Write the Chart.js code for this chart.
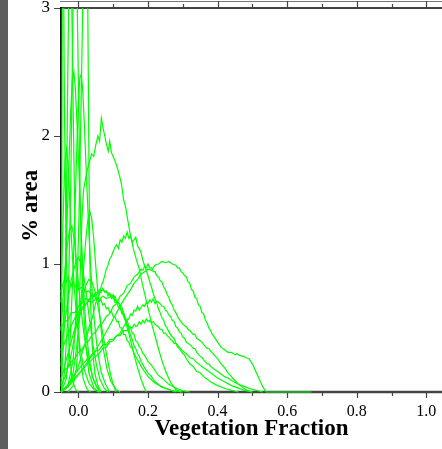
<!DOCTYPE html>
<html lang="en">
<head>
<meta charset="UTF-8">
<title>Vegetation Fraction</title>
<script src="https://cdn.jsdelivr.net/npm/chart.js"></script>
<style>
    body { margin: 0; background: #fff; }
    #wrap { width: 442px; height: 449px; }
</style>
</head>
<body>
<div id="wrap"><canvas id="vegChart" width="442" height="449"></canvas></div>
<script>
// axis ticks
const xMajorTicks = [0, 0.2, 0.4, 0.6, 0.8, 1.0];
const xMinorTicks = [0.1, 0.3, 0.5, 0.7, 0.9];
const yMajorTicks = [0, 1, 2, 3];

// curves, each a list of [vegetation fraction, % area]
const spike01 = [[-0.05,0.0],[-0.048,1.0],[-0.046,3.6],[-0.043,3.4],[-0.04,2.2],[-0.036,1.3],[-0.032,0.7],[-0.026,0.3],[-0.018,0.1],[-0.008,0.02],[0.0,0]];
const spike02 = [[-0.05,0.05],[-0.042,0.4],[-0.035,1.3],[-0.03,2.6],[-0.026,3.5],[-0.021,3.5],[-0.016,2.4],[-0.01,1.3],[-0.004,0.7],[0.004,0.3],[0.014,0.1],[0.025,0.02],[0.035,0]];
const spike03 = [[-0.05,0.0],[-0.04,0.15],[-0.03,0.6],[-0.022,1.6],[-0.016,2.9],[-0.012,3.6],[-0.006,3.5],[-0.001,2.6],[0.005,1.5],[0.012,0.8],[0.02,0.4],[0.03,0.15],[0.045,0.03],[0.06,0]];
const spike04 = [[-0.05,0.2],[-0.042,0.6],[-0.034,1.2],[-0.027,1.8],[-0.022,2.2],[-0.017,2.45],[-0.013,2.5],[-0.009,2.38],[-0.004,2.1],[0.002,1.7],[0.008,1.25],[0.015,0.8],[0.022,0.5],[0.03,0.28],[0.04,0.12],[0.052,0.04],[0.065,0]];
const spike05 = [[-0.05,0.0],[-0.035,0.1],[-0.024,0.4],[-0.016,0.9],[-0.009,1.5],[-0.004,1.95],[0.0,2.25],[0.004,2.45],[0.008,2.48],[0.012,2.38],[0.017,2.1],[0.023,1.7],[0.03,1.25],[0.038,0.85],[0.046,0.55],[0.055,0.32],[0.065,0.16],[0.078,0.06],[0.09,0]];
const spike06 = [[-0.05,0.0],[-0.03,0.05],[-0.015,0.25],[-0.005,0.7],[0.002,1.4],[0.008,2.3],[0.013,3.1],[0.018,3.6],[0.023,3.5],[0.027,3.0],[0.03,1.9],[0.032,1.2],[0.035,0.7],[0.04,0.35],[0.047,0.15],[0.056,0.05],[0.065,0]];
const spike07 = [[-0.05,0.7],[-0.046,1.15],[-0.042,1.55],[-0.038,1.82],[-0.034,1.9],[-0.03,1.78],[-0.025,1.5],[-0.019,1.15],[-0.012,0.82],[-0.004,0.55],[0.005,0.34],[0.016,0.18],[0.03,0.07],[0.045,0.02],[0.06,0]];
const spike08 = [[-0.05,0.0],[-0.03,0.04],[-0.015,0.15],[-0.005,0.35],[0.005,0.62],[0.013,0.9],[0.02,1.15],[0.026,1.32],[0.032,1.42],[0.038,1.36],[0.044,1.2],[0.05,0.98],[0.057,0.74],[0.064,0.52],[0.072,0.33],[0.082,0.18],[0.094,0.08],[0.108,0.02],[0.12,0]];
const spike09 = [[-0.05,0.32],[-0.04,0.52],[-0.03,0.72],[-0.02,0.88],[-0.01,0.99],[0.0,1.05],[0.008,1.0],[0.016,0.9],[0.025,0.72],[0.034,0.52],[0.043,0.35],[0.052,0.21],[0.062,0.1],[0.074,0.03],[0.085,0]];
const spike10 = [[-0.05,0.48],[-0.042,0.82],[-0.034,1.1],[-0.026,1.26],[-0.019,1.3],[-0.012,1.2],[-0.005,1.0],[0.003,0.76],[0.012,0.54],[0.021,0.36],[0.031,0.22],[0.042,0.11],[0.053,0.04],[0.064,0]];
const spike11 = [[-0.05,0.04],[-0.035,0.14],[-0.02,0.3],[-0.008,0.48],[0.002,0.62],[0.012,0.74],[0.021,0.83],[0.03,0.88],[0.039,0.86],[0.048,0.78],[0.057,0.66],[0.066,0.52],[0.075,0.38],[0.084,0.25],[0.093,0.13],[0.1,0.06],[0.108,0]];

const curveA = [[-0.03,0.0],[-0.015,0.05],[-0.005,0.2],[0.0,0.45],[0.005,0.9],[0.01,1.35],[0.015,1.58],[0.02,1.66],[0.026,1.74],[0.032,1.8],[0.038,1.86],[0.044,1.84],[0.05,1.93],[0.056,2.0],[0.061,1.96],[0.066,2.14],[0.071,2.06],[0.076,2.0],[0.081,1.93],[0.086,1.88],[0.09,1.96],[0.095,1.87],[0.1,1.84],[0.106,1.8],[0.112,1.75],[0.118,1.69],[0.124,1.62],[0.13,1.5],[0.136,1.44],[0.142,1.34],[0.15,1.22],[0.158,1.12],[0.166,1.04],[0.175,0.96],[0.184,0.84],[0.193,0.74],[0.202,0.63],[0.212,0.52],[0.222,0.42],[0.232,0.32],[0.243,0.22],[0.254,0.14],[0.266,0.07],[0.28,0.02],[0.295,0]];
const curveB = [[-0.05,0.0],[-0.03,0.04],[-0.01,0.14],[0.0,0.2],[0.01,0.3],[0.02,0.38],[0.03,0.5],[0.04,0.58],[0.05,0.7],[0.06,0.76],[0.065,0.82],[0.07,0.86],[0.075,0.9],[0.08,0.96],[0.085,0.99],[0.09,1.04],[0.095,1.06],[0.1,1.1],[0.105,1.13],[0.11,1.15],[0.115,1.12],[0.12,1.19],[0.125,1.17],[0.13,1.22],[0.135,1.2],[0.14,1.25],[0.145,1.2],[0.15,1.22],[0.155,1.17],[0.16,1.19],[0.165,1.21],[0.17,1.14],[0.175,1.12],[0.18,1.09],[0.185,1.03],[0.19,0.99],[0.195,0.95],[0.2,0.91],[0.205,0.86],[0.21,0.82],[0.215,0.77],[0.22,0.73],[0.225,0.7],[0.23,0.65],[0.235,0.62],[0.24,0.58],[0.245,0.56],[0.25,0.52],[0.255,0.5],[0.26,0.47],[0.27,0.43],[0.275,0.42],[0.28,0.38],[0.285,0.37],[0.29,0.34],[0.3,0.3],[0.305,0.29],[0.31,0.26],[0.32,0.22],[0.33,0.2],[0.34,0.16],[0.35,0.15],[0.36,0.12],[0.38,0.08],[0.4,0.05],[0.43,0.02],[0.46,0]];
const curveC = [[-0.05,0.0],[-0.03,0.04],[-0.01,0.1],[0.01,0.17],[0.03,0.25],[0.05,0.33],[0.07,0.42],[0.09,0.52],[0.11,0.62],[0.13,0.72],[0.15,0.8],[0.16,0.85],[0.17,0.88],[0.18,0.92],[0.19,0.94],[0.2,0.96],[0.21,0.95],[0.22,0.99],[0.23,1.0],[0.24,1.02],[0.25,1.01],[0.26,1.02],[0.27,1.0],[0.28,0.99],[0.285,0.97],[0.29,0.97],[0.295,0.94],[0.3,0.93],[0.305,0.91],[0.31,0.9],[0.315,0.86],[0.32,0.85],[0.325,0.8],[0.33,0.79],[0.335,0.74],[0.34,0.73],[0.345,0.68],[0.35,0.67],[0.355,0.62],[0.36,0.61],[0.365,0.56],[0.37,0.54],[0.375,0.5],[0.38,0.48],[0.385,0.45],[0.39,0.43],[0.4,0.39],[0.41,0.35],[0.42,0.33],[0.43,0.31],[0.44,0.31],[0.45,0.29],[0.455,0.3],[0.46,0.29],[0.47,0.28],[0.475,0.28],[0.48,0.27],[0.49,0.26],[0.5,0.22],[0.51,0.16],[0.52,0.1],[0.53,0.04],[0.54,0.0],[0.67,0.0]];
const curveD = [[-0.05,0.14],[-0.04,0.17],[-0.03,0.19],[-0.02,0.24],[-0.01,0.26],[0.0,0.31],[0.01,0.33],[0.02,0.38],[0.03,0.4],[0.04,0.45],[0.05,0.47],[0.06,0.52],[0.07,0.54],[0.08,0.59],[0.09,0.61],[0.1,0.67],[0.11,0.69],[0.12,0.75],[0.13,0.77],[0.14,0.83],[0.15,0.85],[0.16,0.9],[0.17,0.92],[0.18,0.96],[0.185,0.95],[0.19,0.98],[0.195,0.97],[0.2,1.0],[0.205,0.97],[0.21,0.97],[0.215,0.94],[0.22,0.94],[0.225,0.91],[0.23,0.9],[0.235,0.87],[0.24,0.86],[0.245,0.82],[0.25,0.8],[0.255,0.76],[0.26,0.74],[0.265,0.7],[0.27,0.68],[0.275,0.64],[0.28,0.62],[0.285,0.59],[0.29,0.57],[0.3,0.53],[0.31,0.51],[0.315,0.49],[0.32,0.48],[0.33,0.45],[0.335,0.45],[0.34,0.42],[0.35,0.4],[0.355,0.39],[0.36,0.37],[0.37,0.34],[0.375,0.34],[0.38,0.32],[0.39,0.29],[0.4,0.26],[0.41,0.22],[0.42,0.19],[0.43,0.15],[0.44,0.12],[0.45,0.09],[0.46,0.06],[0.47,0.04],[0.48,0.02],[0.5,0.0]];
const curveE = [[-0.05,0.0],[-0.03,0.05],[-0.01,0.11],[0.01,0.17],[0.03,0.23],[0.05,0.28],[0.06,0.3],[0.07,0.34],[0.08,0.35],[0.09,0.39],[0.1,0.4],[0.11,0.44],[0.12,0.46],[0.13,0.51],[0.135,0.53],[0.14,0.57],[0.145,0.57],[0.15,0.61],[0.155,0.6],[0.16,0.64],[0.165,0.63],[0.17,0.67],[0.175,0.64],[0.18,0.66],[0.185,0.68],[0.19,0.67],[0.195,0.7],[0.2,0.69],[0.205,0.72],[0.21,0.7],[0.215,0.73],[0.22,0.69],[0.225,0.71],[0.23,0.7],[0.235,0.69],[0.24,0.67],[0.245,0.67],[0.25,0.64],[0.255,0.63],[0.26,0.6],[0.265,0.59],[0.27,0.56],[0.275,0.55],[0.28,0.51],[0.285,0.5],[0.29,0.47],[0.295,0.46],[0.3,0.43],[0.305,0.42],[0.31,0.39],[0.32,0.37],[0.325,0.36],[0.33,0.34],[0.335,0.34],[0.34,0.31],[0.35,0.28],[0.355,0.27],[0.36,0.25],[0.37,0.22],[0.375,0.22],[0.38,0.2],[0.39,0.18],[0.4,0.16],[0.41,0.14],[0.42,0.12],[0.43,0.11],[0.44,0.09],[0.46,0.06],[0.48,0.04],[0.5,0.02],[0.53,0.0]];
const curveF = [[-0.05,0.0],[-0.03,0.06],[-0.01,0.14],[0.01,0.21],[0.03,0.27],[0.05,0.32],[0.06,0.33],[0.07,0.37],[0.08,0.37],[0.09,0.41],[0.1,0.41],[0.11,0.44],[0.12,0.44],[0.13,0.48],[0.14,0.48],[0.15,0.51],[0.155,0.5],[0.16,0.53],[0.165,0.51],[0.17,0.52],[0.175,0.55],[0.18,0.53],[0.185,0.56],[0.19,0.54],[0.195,0.57],[0.2,0.55],[0.205,0.56],[0.21,0.54],[0.215,0.55],[0.22,0.53],[0.225,0.52],[0.23,0.51],[0.235,0.49],[0.24,0.49],[0.245,0.46],[0.25,0.46],[0.255,0.44],[0.26,0.43],[0.265,0.41],[0.27,0.4],[0.275,0.38],[0.28,0.38],[0.285,0.35],[0.29,0.35],[0.3,0.32],[0.31,0.3],[0.32,0.27],[0.33,0.26],[0.34,0.23],[0.35,0.21],[0.36,0.19],[0.37,0.17],[0.38,0.15],[0.39,0.13],[0.4,0.11],[0.42,0.08],[0.44,0.05],[0.46,0.03],[0.48,0.01],[0.5,0.0]];
const curveG = [[-0.05,0.3],[-0.04,0.38],[-0.03,0.45],[-0.02,0.52],[-0.01,0.58],[0.0,0.62],[0.01,0.66],[0.02,0.68],[0.03,0.71],[0.04,0.7],[0.05,0.73],[0.06,0.72],[0.07,0.75],[0.08,0.73],[0.09,0.74],[0.1,0.76],[0.105,0.72],[0.11,0.71],[0.115,0.7],[0.12,0.68],[0.125,0.66],[0.13,0.62],[0.135,0.58],[0.14,0.53],[0.145,0.49],[0.15,0.44],[0.155,0.41],[0.16,0.36],[0.165,0.34],[0.17,0.3],[0.175,0.28],[0.18,0.24],[0.19,0.19],[0.2,0.15],[0.21,0.12],[0.22,0.08],[0.24,0.04],[0.26,0.02],[0.28,0.0]];
const curveH = [[-0.05,0.78],[-0.045,0.84],[-0.04,0.88],[-0.035,0.86],[-0.03,0.9],[-0.025,0.86],[-0.02,0.83],[-0.015,0.86],[-0.01,0.82],[-0.005,0.84],[0.0,0.8],[0.01,0.82],[0.02,0.78],[0.03,0.79],[0.04,0.75],[0.05,0.74],[0.06,0.71],[0.065,0.72],[0.07,0.68],[0.075,0.69],[0.08,0.65],[0.085,0.66],[0.09,0.62],[0.095,0.63],[0.1,0.59],[0.105,0.59],[0.11,0.55],[0.115,0.55],[0.12,0.5],[0.125,0.5],[0.13,0.45],[0.135,0.45],[0.14,0.4],[0.145,0.39],[0.15,0.35],[0.155,0.34],[0.16,0.3],[0.17,0.25],[0.175,0.23],[0.18,0.2],[0.19,0.16],[0.2,0.12],[0.22,0.07],[0.24,0.04],[0.27,0.01],[0.3,0.0]];
const curveH2 = [[-0.05,0.1],[-0.04,0.2],[-0.03,0.3],[-0.02,0.4],[-0.01,0.5],[0.0,0.58],[0.01,0.64],[0.02,0.68],[0.03,0.72],[0.04,0.74],[0.05,0.78],[0.06,0.77],[0.07,0.8],[0.08,0.78],[0.09,0.77],[0.1,0.74],[0.105,0.75],[0.11,0.71],[0.115,0.7],[0.12,0.66],[0.125,0.64],[0.13,0.59],[0.135,0.56],[0.14,0.5],[0.145,0.46],[0.15,0.4],[0.155,0.35],[0.16,0.29],[0.17,0.19],[0.18,0.1],[0.19,0.03],[0.195,0.0]];
const curveI = [[-0.05,0.5],[-0.04,0.55],[-0.03,0.56],[-0.02,0.62],[-0.01,0.62],[0.0,0.67],[0.01,0.69],[0.02,0.73],[0.03,0.72],[0.04,0.76],[0.05,0.75],[0.06,0.8],[0.065,0.78],[0.07,0.81],[0.075,0.78],[0.08,0.79],[0.085,0.75],[0.09,0.77],[0.095,0.73],[0.1,0.74],[0.105,0.7],[0.11,0.7],[0.115,0.66],[0.12,0.66],[0.125,0.61],[0.13,0.61],[0.135,0.56],[0.14,0.56],[0.145,0.51],[0.15,0.5],[0.155,0.46],[0.16,0.45],[0.165,0.4],[0.17,0.39],[0.175,0.35],[0.18,0.34],[0.185,0.3],[0.19,0.29],[0.2,0.24],[0.21,0.21],[0.215,0.19],[0.22,0.17],[0.23,0.13],[0.24,0.11],[0.26,0.06],[0.28,0.03],[0.3,0.01],[0.32,0.0]];

const curves = [spike01, spike02, spike03, spike04, spike05, spike06, spike07, spike08, spike09, spike10, spike11,
                curveA, curveB, curveC, curveD, curveE, curveF, curveG, curveH, curveH2, curveI];

const serif = "'Liberation Serif', 'DejaVu Serif', serif";

// no extra room for the end labels: the plot box is set by layout padding only
function noScalePadding(s) {
    s.paddingTop = 0; s.paddingBottom = 0; s.paddingLeft = 0; s.paddingRight = 0;
}

// frame, tick marks and the grey strip on the left
const framePlugin = {
    id: 'frame',
    beforeDraw(chart) {
        const ctx = chart.ctx;
        ctx.save();
        ctx.fillStyle = '#5e5e5e';
        ctx.fillRect(0, 0, 8, chart.height);
        ctx.restore();
    },
    beforeDatasetsDraw(chart) {
        const ctx = chart.ctx;
        const { left, right, top, bottom } = chart.chartArea;
        const xs = chart.scales.x, ys = chart.scales.y;
        ctx.save();
        // thin line above (edge of the panel above)
        ctx.strokeStyle = '#777';
        ctx.lineWidth = 1;
        ctx.beginPath(); ctx.moveTo(left - 1, 1.5); ctx.lineTo(right, 1.5); ctx.stroke();

        ctx.strokeStyle = '#444';
        ctx.lineWidth = 2;
        ctx.beginPath(); ctx.moveTo(left, top); ctx.lineTo(right, top); ctx.stroke();
        ctx.lineWidth = 2.5;
        ctx.beginPath(); ctx.moveTo(left, bottom); ctx.lineTo(right, bottom); ctx.stroke();

        ctx.lineWidth = 1.2;
        ctx.beginPath();
        xMajorTicks.forEach(v => {
            const px = Math.round(xs.getPixelForValue(v)) + 0.5;
            ctx.moveTo(px, bottom); ctx.lineTo(px, bottom + 6);
            ctx.moveTo(px, top); ctx.lineTo(px, 1);
        });
        xMinorTicks.forEach(v => {
            const px = Math.round(xs.getPixelForValue(v)) + 0.5;
            ctx.moveTo(px, bottom); ctx.lineTo(px, bottom + 4);
            ctx.moveTo(px, top); ctx.lineTo(px, top - 4);
        });
        yMajorTicks.forEach(v => {
            const py = Math.round(ys.getPixelForValue(v)) + 0.5;
            ctx.moveTo(left, py); ctx.lineTo(left - 7, py);
        });
        ctx.stroke();

        ctx.strokeStyle = '#111';
        ctx.lineWidth = 2;
        ctx.beginPath(); ctx.moveTo(left, top - 1); ctx.lineTo(left, bottom + 1); ctx.stroke();
        ctx.restore();
    }
};

new Chart(document.getElementById('vegChart'), {
    type: 'line',
    data: {
        datasets: curves.map(c => ({
            data: c.map(p => ({ x: p[0], y: p[1] })),
            borderColor: '#00ff00',
            borderWidth: 1.2,
            pointRadius: 0,
            tension: 0,
            fill: false,
            clip: { left: 1, top: 0, right: 0, bottom: 2 }
        }))
    },
    options: {
        responsive: false,
        animation: false,
        devicePixelRatio: 1,
        events: [],
        layout: { padding: { top: 8, left: 0, right: 0, bottom: 0 } },
        plugins: { legend: { display: false }, tooltip: { enabled: false } },
        scales: {
            x: {
                type: 'linear',
                min: -0.05,
                max: 1.045,
                afterBuildTicks: s => { s.ticks = xMajorTicks.map(v => ({ value: v })); },
                afterFit: s => { s.height = 57; noScalePadding(s); },
                grid: { display: false, drawTicks: false },
                border: { display: false },
                ticks: {
                    callback: v => v.toFixed(1),
                    font: { family: serif, size: 16 },
                    color: '#000',
                    padding: 10,
                    maxRotation: 0,
                    autoSkip: false
                },
                title: {
                    display: true,
                    text: 'Vegetation Fraction',
                    font: { family: serif, size: 23, weight: 'bold' },
                    color: '#000',
                    padding: { top: 0, bottom: 6 }
                }
            },
            y: {
                min: 0,
                max: 3,
                afterBuildTicks: s => { s.ticks = yMajorTicks.map(v => ({ value: v })); },
                afterFit: s => { s.width = 61; noScalePadding(s); },
                grid: { display: false, drawTicks: false },
                border: { display: false },
                ticks: {
                    callback: v => String(v),
                    font: { family: serif, size: 17 },
                    color: '#000',
                    padding: 11
                },
                title: {
                    display: true,
                    text: '% area  ',
                    font: { family: serif, size: 23, weight: 'bold' },
                    color: '#000',
                    padding: { top: 17, bottom: 0 }
                }
            }
        }
    },
    plugins: [framePlugin]
});
</script>
</body>
</html>
